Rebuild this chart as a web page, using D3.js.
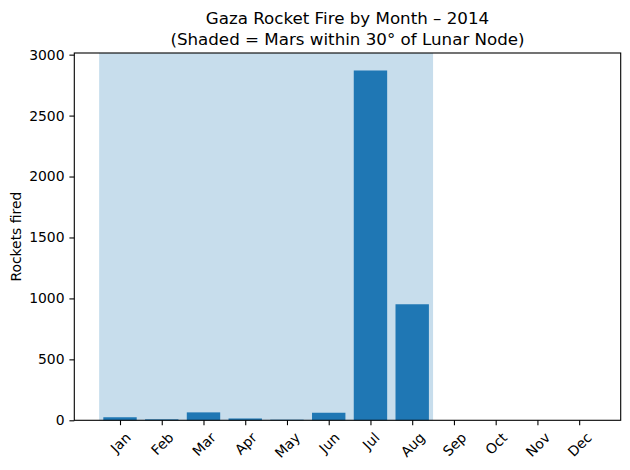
<!DOCTYPE html>
<html lang="en">
	<head>
		<meta charset="utf-8">
		<title>Gaza Rocket Fire by Month</title>
		<script type="text/javascript" src="https://cdn.jsdelivr.net/npm/d3@7"></script>
		<style type="text/css">
			body { margin: 0; background: white; }
			text { font-family: "DejaVu Sans", sans-serif; fill: black; }
		</style>
	</head>
	<body>
		<div id="chart"></div>
		<script type="text/javascript">
			//Data
			var months = ["Jan", "Feb", "Mar", "Apr", "May", "Jun", "Jul", "Aug", "Sep", "Oct", "Nov", "Dec"];
			var rockets = [25, 8, 65, 15, 5, 62, 2870, 952, 0, 0, 0, 0];
			var shadedMonths = [0, 7];   // first and last shaded month index
			var yTicks = [0, 500, 1000, 1500, 2000, 2500, 3000];

			var w = 630, h = 470;
			//plot area (window.top is reserved, so use other names)
			var pLeft = 74.3, pRight = 620.7, pTop = 53, pBottom = 420.3;

			var svg = d3.select("#chart")
				.append("svg")
				.attr("width", w)
				.attr("height", h);

			//Scales (matplotlib style margins)
			var lo = -0.5, hi = months.length - 1 + 0.4;
			var pad = 0.05 * (hi - lo);
			var x = d3.scaleLinear()
				.domain([lo - pad, hi + pad])
				.range([pLeft, pRight]);

			var y = d3.scaleLinear()
				.domain([0, d3.max(rockets) * 1.05])
				.range([pBottom, pTop]);

			//Shaded span
			svg.append("rect")
				.attr("x", x(shadedMonths[0] - 0.5))
				.attr("y", pTop)
				.attr("width", x(shadedMonths[1] + 0.5) - x(shadedMonths[0] - 0.5))
				.attr("height", pBottom - pTop)
				.attr("fill", "#1f77b4")
				.attr("fill-opacity", 0.25);

			//Bars
			svg.selectAll("rect.bar")
				.data(rockets)
				.enter()
				.append("rect")
				.attr("class", "bar")
				.attr("x", function(d, i) { return x(i - 0.4); })
				.attr("width", function(d, i) { return x(i + 0.4) - x(i - 0.4); })
				.attr("y", function(d) { return y(d); })
				.attr("height", function(d) { return y(0) - y(d); })
				.attr("fill", "#1f77b4");

			//Y axis
			var yAxis = d3.axisLeft(y)
				.tickValues(yTicks)
				.tickFormat(d3.format("d"))
				.tickSize(4.9)
				.tickPadding(4.9);

			var gy = svg.append("g")
				.attr("transform", "translate(" + pLeft + ",0)")
				.call(yAxis);
			gy.select(".domain").remove();
			gy.selectAll("line").attr("stroke", "black").attr("stroke-width", 1.1);
			gy.selectAll("text").attr("font-size", "13.9px").attr("font-family", "DejaVu Sans");

			//X axis
			var xAxis = d3.axisBottom(x)
				.tickValues(d3.range(months.length))
				.tickFormat(function(d) { return months[d]; })
				.tickSize(4.9)
				.tickPadding(4.9);

			var gx = svg.append("g")
				.attr("transform", "translate(0," + pBottom + ")")
				.call(xAxis);
			gx.select(".domain").remove();
			gx.selectAll("line").attr("stroke", "black").attr("stroke-width", 1.1);

			//Rotate labels about their centre, like matplotlib rotation=45
			gx.selectAll("text")
				.attr("font-size", "13.9px")
				.attr("font-family", "DejaVu Sans")
				.attr("dy", null)
				.attr("y", 0)
				.attr("text-anchor", "middle")
				.attr("dominant-baseline", "central")
				.each(function() {
					var t = d3.select(this);
					var tw = this.getComputedTextLength();
					var th = 13.9;
					var half = (tw + th) * Math.SQRT1_2 / 2;
					var cy = 4.9 + 4.9 + half;
					t.attr("transform", "translate(0," + cy + ") rotate(-45)");
				});

			//Frame
			svg.append("rect")
				.attr("x", pLeft)
				.attr("y", pTop)
				.attr("width", pRight - pLeft)
				.attr("height", pBottom - pTop)
				.attr("fill", "none")
				.attr("stroke", "black")
				.attr("stroke-width", 1.1);

			//Title
			var cx = (pLeft + pRight) / 2;
			svg.append("text")
				.attr("x", cx)
				.attr("y", 24)
				.attr("text-anchor", "middle")
				.attr("font-size", "16.7px")
				.text("Gaza Rocket Fire by Month – 2014");
			svg.append("text")
				.attr("x", cx)
				.attr("y", 45)
				.attr("text-anchor", "middle")
				.attr("font-size", "16.7px")
				.text("(Shaded = Mars within 30° of Lunar Node)");

			//Y label
			svg.append("text")
				.attr("transform", "translate(21," + ((pTop + pBottom) / 2) + ") rotate(-90)")
				.attr("text-anchor", "middle")
				.attr("font-size", "13.9px")
				.text("Rockets fired");
		</script>
	</body>
</html>
